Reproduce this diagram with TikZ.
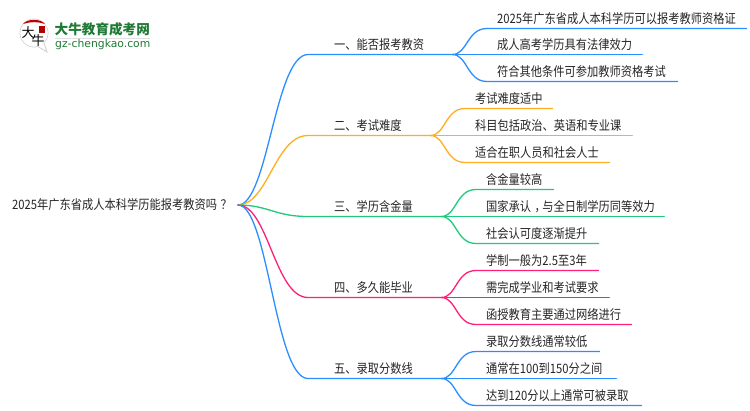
\documentclass[tikz,border=0pt]{standalone}
\usepackage{fontspec}
\usepackage{graphicx}
\usetikzlibrary{calc}
\setmainfont{Noto Sans CJK SC}
\newfontfamily\latinlogo{DejaVu Sans}
\definecolor{cblue}{HTML}{2B8EFF}
\definecolor{corange}{HTML}{FFAE1F}
\definecolor{cgreen}{HTML}{1FCB7A}
\definecolor{cpink}{HTML}{FF1F78}
\definecolor{cgreenlogo}{HTML}{1F7A35}
\definecolor{ctext}{HTML}{262626}
\newcommand{\tallq}[1]{\scalebox{1}[1.15]{#1}}
\tikzset{
  txt/.style={font=\fontsize{11.25}{13}\selectfont, text=ctext, inner xsep=0pt, inner ysep=2.5pt, text height=9.5pt, text depth=2pt, anchor=south west, align=left},
  lvlone/.style={txt, text width=#1, execute at begin node=\hspace*{26pt}},
  leaf/.style={txt, text width=#1, execute at begin node=\hspace*{10pt}},
  link/.style={line width=1.3pt, line cap=round},
}
\begin{document}
\begin{tikzpicture}[x=1pt,y=-1pt]
\useasboundingbox (0,0) rectangle (750,410);
\fill[white] (0,0) rectangle (750,410);
% logo
\fill[white,draw=black!18,line width=.8pt] (34,33) circle (14);
\draw[black!18,line width=.8pt,fill=white] (37,46) -- (47,52) -- (44,43);
\fill[white] (34,33) circle (13.5);
\fill[red!75!black] (23,24) .. controls (27,18.5) and (41,18.5) .. (45,24) .. controls (38,21.5) and (30,21.5) .. (23,24);
\fill[red!70!black] (39,26) rectangle (45,33);
\node[font=\fontsize{13}{13}\selectfont,text=black,inner sep=0pt] (logoa) at (28,33) {大};
\node[font=\fontsize{13}{13}\selectfont,text=black,inner sep=0pt] (logob) at (38,41) {牛};
\node[font=\fontsize{13.6}{14}\selectfont\bfseries,text=cgreenlogo,inner sep=0pt,anchor=west] (logot) at (54.5,29.5) {大牛教育成考网};
\draw[black!12,line width=.8pt] (54.5,38.5) -- (150,38.5);
\node[font=\fontsize{10.8}{11}\selectfont\latinlogo,text=cgreenlogo,inner sep=0pt,anchor=west] (logou) at (55,45) {gz-chengkao.com};
% root
\node[font=\fontsize{11.25}{13}\selectfont,text=ctext,inner sep=0pt,anchor=west,text height=9.5pt,text depth=2pt] (root) at (12,206) {\tallq{2025年广东省成人本科学历能报考教资吗\kern3.5pt？\kern-3.5pt}};
\coordinate (hub) at (238,205);
% level one
\node[lvlone=144pt] (A) at (308,54.5) {\tallq{一、能否报考教资}};
\node[lvlone=122pt] (B) at (308,135.5) {\tallq{二、考试难度}};
\node[lvlone=133pt] (C) at (308,216.5) {\tallq{三、学历含金量}};
\node[lvlone=133pt] (D) at (308,297.5) {\tallq{四、多久能毕业}};
\node[lvlone=133pt] (E) at (308,378.5) {\tallq{五、录取分数线}};
% leaves
\node[leaf=259pt] (A1) at (487,28.5) {\tallq{2025年广东省成人本科学历可以报考教师资格证}};
\node[leaf=155pt] (A2) at (487,54.5) {\tallq{成人高考学历具有法律效力}};
\node[leaf=190pt] (A3) at (487,81.5) {\tallq{符合其他条件可参加教师资格考试}};
\node[leaf=87pt] (B1) at (465,108.5) {\tallq{考试难度适中}};
\node[leaf=167pt] (B2) at (465,135.5) {\tallq{科目包括政治、英语和专业课}};
\node[leaf=144pt] (B3) at (465,162.5) {\tallq{适合在职人员和社会人士}};
\node[leaf=77pt] (C1) at (476,189.5) {\tallq{含金量较高}};
\node[leaf=188pt] (C2) at (476,216.5) {\tallq{国家承认\kern3.5pt，\kern-3.5pt与全日制学历同等效力}};
\node[leaf=122pt] (C3) at (476,243.5) {\tallq{社会认可度逐渐提升}};
\node[leaf=122pt] (D1) at (476,270.5) {\tallq{学制一般为2.5至3年}};
\node[leaf=133pt] (D2) at (476,297.5) {\tallq{需完成学业和考试要求}};
\node[leaf=155pt] (D3) at (476,324.5) {\tallq{函授教育主要通过网络进行}};
\node[leaf=123pt] (E1) at (476,351.5) {\tallq{录取分数线通常较低}};
\node[leaf=140pt] (E2) at (476,378.5) {\tallq{通常在100到150分之间}};
\node[leaf=165pt] (E3) at (476,405.5) {\tallq{达到120分以上通常可被录取}};
% connectors
\foreach \n/\c in {A/cblue,B/corange,C/cgreen,D/cpink,E/cblue}{
  \draw[link,draw=\c] (hub) .. controls ($(hub)+(30,0)$) and ($(\n.south west)+(-33,0)$) .. (\n.south west) -- (\n.south east);
  \foreach \m in {1,2,3}{
    \draw[link,draw=\c] (\n.south east) .. controls ($(\n.south east)+(15,0)$) and ($(\n\m.south west)+(-20,0)$) .. (\n\m.south west) -- (\n\m.south east);
  }
}
\end{tikzpicture}
\end{document}
